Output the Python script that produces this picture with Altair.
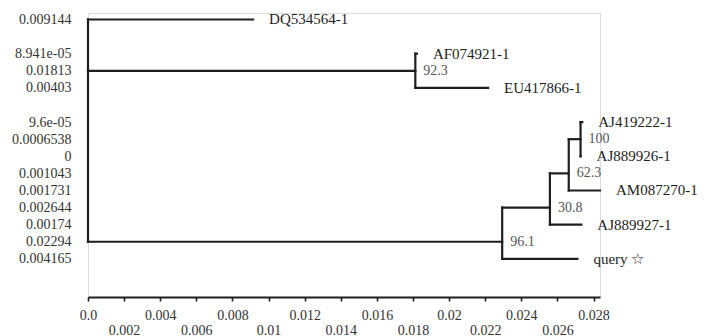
import json
import altair as alt
import pandas as pd

# ---- tree data ----
names = ["root", "DQ534564-1", "nAF", "AF074921-1", "EU417866-1",
         "AJ419222-1", "n100", "AJ889926-1", "n62", "AM087270-1",
         "n30", "AJ889927-1", "n96", "query \u2606"]
parents = [None, "root", "root", "nAF", "nAF",
           "n100", "n62", "n100", "n30", "n62",
           "n96", "n30", "root", "n96"]
branch = [0.0, 0.009144, 0.01813, 8.941e-05, 0.00403,
          9.6e-05, 0.0006538, 0.0, 0.001043, 0.001731,
          0.002644, 0.00174, 0.02294, 0.004165]
branch_text = ["", "0.009144", "0.01813", "8.941e-05", "0.00403",
               "9.6e-05", "0.0006538", "0", "0.001043", "0.001731",
               "0.002644", "0.00174", "0.02294", "0.004165"]
rows = [1, 0, 3, 2, 4, 6, 7, 8, 9, 10, 11, 12, 13, 14]
support = ["", "", "92.3", "", "", "", "100", "", "62.3", "", "30.8", "", "96.1", ""]
leaves = ["DQ534564-1", "AF074921-1", "EU417866-1", "AJ419222-1", "AJ889926-1",
          "AM087270-1", "AJ889927-1", "query \u2606"]

x_ticks = [0.0, 0.002, 0.004, 0.006, 0.008, 0.01, 0.012, 0.014,
           0.016, 0.018, 0.02, 0.022, 0.024, 0.026, 0.028]
x_tick_labels = ["0.0", "0.002", "0.004", "0.006", "0.008", "0.01", "0.012", "0.014",
                 "0.016", "0.018", "0.02", "0.022", "0.024", "0.026", "0.028"]

# ---- derived tables ----
idx = {n: i for i, n in enumerate(names)}
depth = {}


def get_depth(n):
    if n in depth:
        return depth[n]
    p = parents[idx[n]]
    d = 0.0 if p is None else get_depth(p) + branch[idx[n]]
    depth[n] = d
    return d


for n in names:
    get_depth(n)

segs = []
for i, n in enumerate(names):
    p = parents[i]
    if p is not None:
        segs.append({"x": depth[p], "x2": depth[n], "y": rows[i], "y2": rows[i]})
for n in names:
    kids = [rows[i] for i, p in enumerate(parents) if p == n]
    if kids:
        segs.append({"x": depth[n], "x2": depth[n], "y": min(kids), "y2": max(kids)})
seg_df = pd.DataFrame(segs)

leaf_df = pd.DataFrame([{"x": depth[n], "y": rows[idx[n]], "label": n} for n in leaves])
sup_df = pd.DataFrame([{"x": depth[n], "y": rows[i], "label": support[i]}
                       for i, n in enumerate(names) if support[i]])

n_rows = 15
row_labels = [""] * n_rows
for i, r in enumerate(rows):
    row_labels[r] = branch_text[i]

max_depth = max(depth.values())
FONT = "Liberation Serif"
INK = "#1e1e1e"

x_axis = alt.Axis(
    values=x_ticks,
    labelExpr=json.dumps(x_tick_labels) + "[round(datum.value / 0.002)]",
    grid=False, title=None, domainColor=INK, domainWidth=1.8,
    tickColor=INK, tickSize=4, tickWidth=1.6,
    labelFont=FONT, labelFontSize=14, labelColor="#333333",
    labelPadding={"condition": {"test": "round(datum.value / 0.002) % 2 == 1", "value": 22},
                  "value": 7},
    labelOverlap=False, labelFlush=False,
)
y_axis = alt.Axis(
    values=list(range(n_rows)),
    labelExpr=json.dumps(row_labels) + "[datum.value]",
    grid=False, title=None, domain=False, ticks=False, tickSize=0,
    labelFont=FONT, labelFontSize=14, labelColor="#333333",
    labelPadding=17, labelOverlap=False,
)
x_scale = alt.Scale(domain=[0, max_depth], nice=False, zero=False)
y_scale = alt.Scale(domain=[16.23, -0.38], nice=False, zero=False)

X = alt.X("x:Q", scale=x_scale, axis=x_axis)
Y = alt.Y("y:Q", scale=y_scale, axis=y_axis)

lines = alt.Chart(seg_df).mark_rule(color=INK, strokeWidth=2.2, strokeCap="square").encode(
    x=X, x2="x2:Q", y=Y, y2="y2:Q"
)
leaf_text = alt.Chart(leaf_df).mark_text(
    align="left", baseline="middle", dx=16, font=FONT, fontSize=15, color=INK
).encode(x=X, y=Y, text="label:N")
sup_text = alt.Chart(sup_df).mark_text(
    align="left", baseline="middle", dx=8, font=FONT, fontSize=14, color="#555555"
).encode(x=X, y=Y, text="label:N")

chart = alt.layer(lines, leaf_text, sup_text).properties(
    width=512, height=284,
    autosize=alt.AutoSizeParams(type="none"),
    padding={"left": 80, "top": 5, "right": 102, "bottom": 47},
).configure_view(stroke=None).configure(background="white")

chart.save("out.html", embed_options={"renderer": "svg", "actions": False})
